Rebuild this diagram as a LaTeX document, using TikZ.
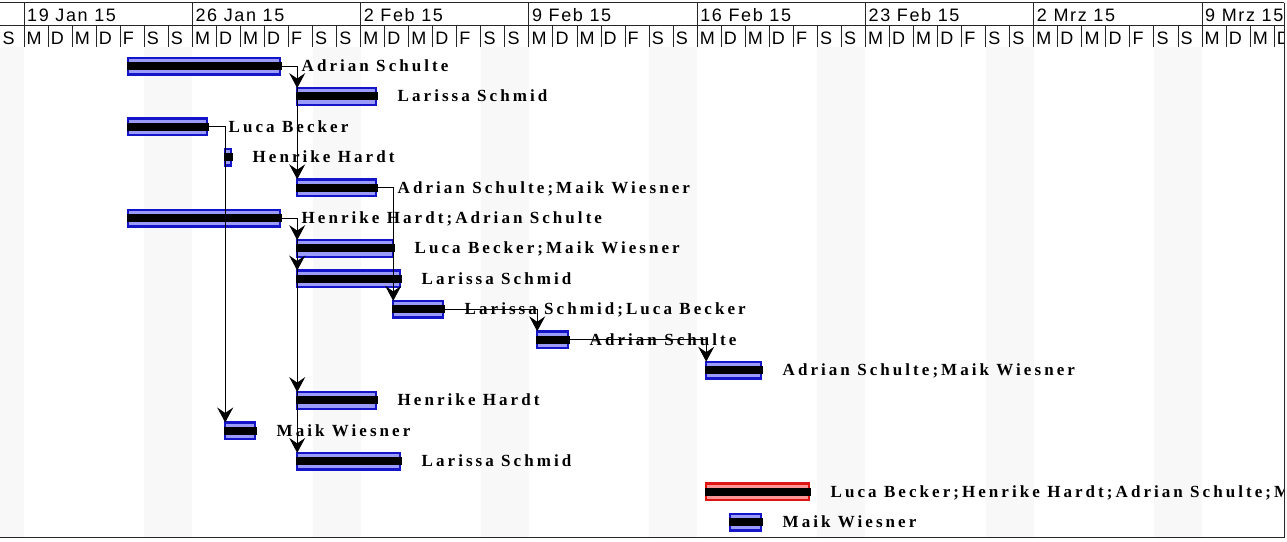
\documentclass[tikz,border=0pt]{standalone}
\usepackage{fontspec}
\setmainfont{Liberation Serif}
\newfontfamily\hdrfont{Liberation Sans}[LetterSpace=9]
\newfontfamily\lblfont{Liberation Serif}[LetterSpace=18]
\usetikzlibrary{arrows.meta}
\definecolor{barblue}{RGB}{20,20,200}
\definecolor{barfill}{RGB}{155,155,250}
\definecolor{barred}{RGB}{225,20,20}
\definecolor{barpink}{RGB}{250,150,150}
\definecolor{wkend}{RGB}{248,248,248}
\tikzset{
  ganttbar/.style={draw=barblue, fill=barfill, line width=2.4pt, minimum height=16.6pt, inner sep=0pt, outer sep=0pt, anchor=west},
  critbar/.style={ganttbar, draw=barred, fill=barpink},
  lbl/.style={anchor=base west, inner sep=0pt, font=\lblfont\bfseries\fontsize{17}{19}\selectfont},
  hdr/.style={anchor=base west, inner sep=0pt, font=\hdrfont\fontsize{18}{20}\selectfont},
  gridline/.style={draw=black!85, line width=0.9pt},
  conn/.style={draw=black, line width=1pt, -{Stealth[length=15pt,width=16pt,inset=5.5pt]}},
  connplain/.style={draw=black, line width=1pt},
}
\newcommand\gbar[6]{%
  \pgfmathsetmacro\gy{66+30.4*(#4-1)}%
  \pgfmathsetmacro\gw{#3-#2-2.4}%
  \node[#6, minimum width=\gw pt] (#1) at (#2+1.2,\gy) {};
  \fill[black] (#2,\gy-4) rectangle (#3+0.6,\gy+4);
  \node[lbl] (#1l) at (#3+20.5,\gy+5.5) {#5};
}
\begin{document}
\begin{tikzpicture}[x=1pt,y=-1pt]
\useasboundingbox (0,0) rectangle (1287,541);
\fill[white] (0,0) rectangle (1287,541);
% weekend shading
\fill[wkend] (0,47) rectangle (24.04,537);
\foreach \w in {0,...,6} {
  \fill[wkend] ({(6+7*\w)*24.04},47) rectangle ({(8+7*\w)*24.04},537);
}
\fill[wkend] ({(6+7*7)*24.04},47) rectangle (1284,537);
% header grid
\draw[gridline] (0,2.5) -- (1284,2.5);
\draw[gridline] (0,25.5) -- (1284,25.5);
\foreach \w in {0,...,7} {
  \draw[gridline] ({24.04+168.28*\w},2.5) -- ({24.04+168.28*\w},25.5);
}
\foreach \n in {1,...,53} {
  \draw[gridline] ({\n*24.04},25.5) -- ({\n*24.04},47);
}
\draw[gridline] (1284,2.5) -- (1284,537.5);
\draw[gridline] (0,537.5) -- (1284,537.5);
\begin{scope}
\clip (0,0) rectangle (1283.5,541);
\foreach \t [count=\w from 0] in {19 Jan 15,26 Jan 15,2 Feb 15,9 Feb 15,16 Feb 15,23 Feb 15,2 Mrz 15,9 Mrz 15} {
  \node[hdr] (wk\w) at ({24.04+168.28*\w+3},21.5) {\t};
}
\foreach \n in {0,...,53} {
  \pgfmathtruncatemacro\dm{mod(\n,7)}
  \node[hdr] (d\n) at ({\n*24.04+2.5},44.5) {\ifcase\dm S\or M\or D\or M\or D\or F\or S\fi};
}
% bars
\gbar{b1}{127}{281}{1}{Adrian Schulte}{ganttbar}
\gbar{b2}{296}{377}{2}{Larissa Schmid}{ganttbar}
\gbar{b3}{127}{208}{3}{Luca Becker}{ganttbar}
\gbar{b4}{224}{232}{4}{Henrike Hardt}{ganttbar}
\gbar{b5}{296}{377}{5}{Adrian Schulte;Maik Wiesner}{ganttbar}
\gbar{b6}{127}{281}{6}{Henrike Hardt;Adrian Schulte}{ganttbar}
\gbar{b7}{296}{394}{7}{Luca Becker;Maik Wiesner}{ganttbar}
\gbar{b8}{296}{401}{8}{Larissa Schmid}{ganttbar}
\gbar{b9}{392}{444}{9}{Larissa Schmid;Luca Becker}{ganttbar}
\gbar{b10}{536}{569}{10}{Adrian Schulte}{ganttbar}
\gbar{b11}{705}{762}{11}{Adrian Schulte;Maik Wiesner}{ganttbar}
\gbar{b12}{296}{377}{12}{Henrike Hardt}{ganttbar}
\gbar{b13}{224}{256}{13}{Maik Wiesner}{ganttbar}
\gbar{b14}{296}{401}{14}{Larissa Schmid}{ganttbar}
\gbar{b15}{705}{810}{15}{Luca Becker;Henrike Hardt;Adrian Schulte;Maik Wiesner}{critbar}
\gbar{b16}{729}{762}{16}{Maik Wiesner}{ganttbar}
\end{scope}
% connectors
\draw[conn] (b1.east) -| (b2.north west);
\draw[conn] (b1.east) -| (b5.north west);
\draw[connplain] (b6.east) -- (b6.east -| b7.west);
\draw[conn] (b6.east) -| (b7.north west);
\draw[conn] (b6.east) -| (b8.north west);
\draw[conn] (b6.east) -| (b12.north west);
\draw[conn] (b6.east) -| (b14.north west);
\draw[conn] (b3.east) -| (b13.north west);
\draw[conn] (b5.east) -| (b9.north west);
\draw[conn] (b9.east) -| (b10.north west);
\draw[conn] (b10.east) -| (b11.north west);
\end{tikzpicture}
\end{document}
